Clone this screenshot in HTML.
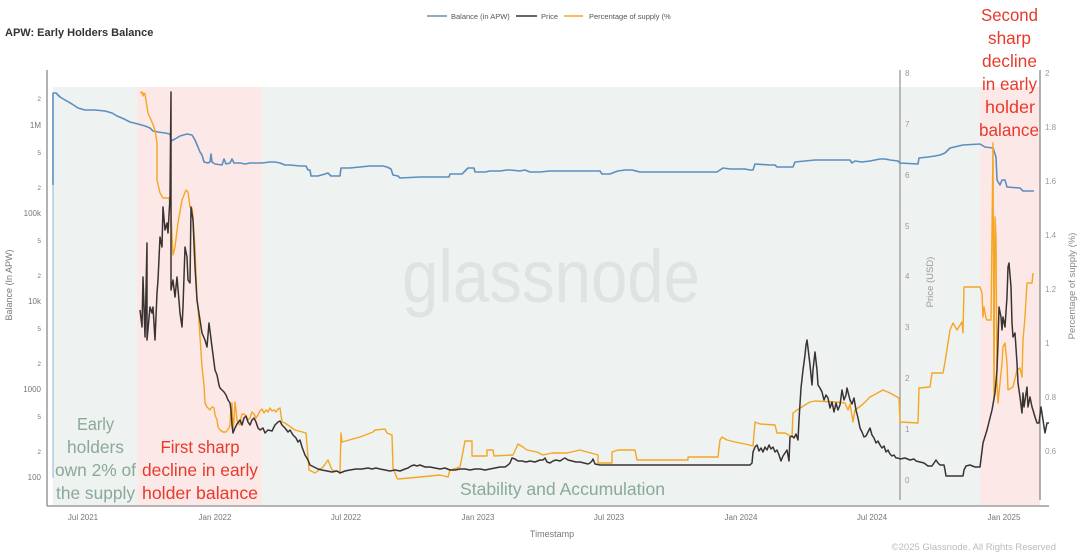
<!DOCTYPE html>
<html><head><meta charset="utf-8"><style>
html,body{margin:0;padding:0;background:#fff;}
svg{display:block;}
text{font-family:"Liberation Sans",Arial,sans-serif;}
</style></head><body>
<svg width="1080" height="556" viewBox="0 0 1080 556" xmlns="http://www.w3.org/2000/svg">
<!-- shading -->
<rect x="53" y="87" width="84" height="418" fill="#eef2f0"/>
<rect x="137" y="87" width="125" height="418" fill="#fce9e7"/>
<rect x="262" y="87" width="718" height="418" fill="#eef2f0"/>
<rect x="980" y="87" width="60" height="418" fill="#fce9e7"/>

<!-- watermark -->
<text x="402" y="302" font-size="74" textLength="298" lengthAdjust="spacingAndGlyphs" fill="#dfe3e2">glassnode</text>

<!-- title -->
<text x="5" y="36" font-size="11" font-weight="bold" fill="#333">APW: Early Holders Balance</text>

<!-- legend -->
<g font-size="7.5" fill="#555">
<line x1="427" y1="16" x2="447" y2="16" stroke="#5b8fc0" stroke-width="1.5"/>
<text x="451" y="19">Balance (in APW)</text>
<line x1="516" y1="16" x2="537" y2="16" stroke="#333" stroke-width="1.5"/>
<text x="541" y="19">Price</text>
<line x1="564" y1="16" x2="583" y2="16" stroke="#f5a623" stroke-width="1.5"/>
<text x="589" y="19">Percentage of supply (%</text>
</g>

<!-- axes -->
<line x1="47" y1="70" x2="47" y2="506" stroke="#888" stroke-width="1.3"/>
<line x1="47" y1="506" x2="1049" y2="506" stroke="#888" stroke-width="1.3"/>
<line x1="900" y1="70" x2="900" y2="500" stroke="#999" stroke-width="1.3"/>
<line x1="1040" y1="70" x2="1040" y2="500" stroke="#888" stroke-width="1.3"/>

<!-- left ticks -->
<g fill="#777" text-anchor="end">
<text x="41" y="101" font-size="6.5">2</text>
<text x="41" y="128" font-size="8">1M</text>
<text x="41" y="155" font-size="6.5">5</text>
<text x="41" y="190" font-size="6.5">2</text>
<text x="41" y="216" font-size="8">100k</text>
<text x="41" y="243" font-size="6.5">5</text>
<text x="41" y="278" font-size="6.5">2</text>
<text x="41" y="304" font-size="8">10k</text>
<text x="41" y="331" font-size="6.5">5</text>
<text x="41" y="366" font-size="6.5">2</text>
<text x="41" y="392" font-size="8">1000</text>
<text x="41" y="419" font-size="6.5">5</text>
<text x="41" y="454" font-size="6.5">2</text>
<text x="41" y="480" font-size="8">100</text>
</g>
<text transform="translate(12,285) rotate(-90)" text-anchor="middle" font-size="9" fill="#777">Balance (In APW)</text>

<!-- price ticks -->
<g fill="#999" font-size="8">
<text x="905" y="76">8</text>
<text x="905" y="127">7</text>
<text x="905" y="178">6</text>
<text x="905" y="229">5</text>
<text x="905" y="279">4</text>
<text x="905" y="330">3</text>
<text x="905" y="381">2</text>
<text x="905" y="432">1</text>
<text x="905" y="483">0</text>
</g>
<text transform="translate(933,282) rotate(-90)" text-anchor="middle" font-size="9.5" fill="#999">Price (USD)</text>

<!-- pct ticks -->
<g fill="#999" font-size="8">
<text x="1045" y="76">2</text>
<text x="1045" y="130">1.8</text>
<text x="1045" y="184">1.6</text>
<text x="1045" y="238">1.4</text>
<text x="1045" y="292">1.2</text>
<text x="1045" y="346">1</text>
<text x="1045" y="400">0.8</text>
<text x="1045" y="454">0.6</text>
</g>
<text transform="translate(1075,286) rotate(-90)" text-anchor="middle" font-size="9.5" fill="#888">Percentage of supply (%)</text>

<!-- x ticks -->
<g fill="#777" font-size="8" text-anchor="middle">
<text x="83" y="520">Jul 2021</text>
<text x="215" y="520">Jan 2022</text>
<text x="346" y="520">Jul 2022</text>
<text x="478" y="520">Jan 2023</text>
<text x="609" y="520">Jul 2023</text>
<text x="741" y="520">Jan 2024</text>
<text x="872" y="520">Jul 2024</text>
<text x="1004" y="520">Jan 2025</text>
</g>
<text x="552" y="537" text-anchor="middle" font-size="9" fill="#777">Timestamp</text>
<text x="1056" y="550" text-anchor="end" font-size="9.5" fill="#bbb">©2025 Glassnode. All Rights Reserved</text>

<!-- blue faint vertical -->
<line x1="53" y1="93" x2="53" y2="478" stroke="#8fb3d6" stroke-width="1"/>

<!-- blue balance -->
<polyline fill="none" stroke="#5b8fc0" stroke-width="1.6" stroke-linejoin="round" points="53,185 53,93 56,93 60,97 65,100 72,104 78,108 85,110 95,110 105,111 112,113 117,116 122,118 130,122 138,124 145,126 150,128 153,131 158,132 165,133 170,134 171,141 175,139 180,136 187,134 192,135 195,140 198,147 200,152 202,155 204,162 208,163 210,162 211,154 212,162 215,164 222,165 224,159 226,164 230,163 232,159 234,163 240,163 245,164 250,163 262,163 270,162 275,162 280,163 285,165 290,165 300,166 306,166 308,170 310,170 311,176 318,176 325,174 328,173 331,176 338,176 340,176 341,168 350,168 360,167 370,166 383,166 387,167 391,169 393,175 398,176 400,178 420,177 445,177 449,177 450,174 462,174 465,171 468,168 474,168 475,172 485,172 490,171 500,171 507,170 510,170 520,171 525,170 530,172 540,172 550,171 560,171 580,171 600,171 602,174 610,174 615,172 618,171 625,170 632,170 640,172 700,172 717,172 720,170 723,168 730,169 745,169 750,170 753,170 755,164 770,165 775,165 777,167 793,167 795,162 805,161 815,160 850,160 852,163 855,161 862,162 870,161 880,159 885,159 890,160 898,161 900,163 918,164 919,158 928,157 935,156 940,155 945,153 950,148 963,145 980,144 985,147 993,148 996,157 997,180 1000,185 1002,180 1005,180 1007,187 1020,188 1023,191 1034,191"/>

<!-- orange pct -->
<polyline fill="none" stroke="#f5a623" stroke-width="1.4" stroke-linejoin="round" points="140,93 142,92 143,96 144,93 145,94 147,107 148,113 152,122 155,130 157,143 157,180 160,193 163,198 169,198 171,210 172,237 173,255 175,247 178,223 182,200 186,190 188,192 190,207 192,208 193,217 195,247 197,300 198,307 200,337 202,367 204,385 205,403 207,407 210,410 212,407 214,408 215,415 217,420 218,427 220,430 223,432 226,432 229,428 230,425 231,405 232,403 233,430 234,420 235,402 236,410 237,420 238,423 240,425 241,418 242,414 244,414 246,416 248,420 250,418 252,412 254,414 256,418 258,415 260,411 262,409 264,413 266,410 268,412 270,408 272,411 274,410 276,412 278,409 280,408 282,422 285,423 295,430 306,433 309,470 315,473 323,467 328,460 332,470 340,472 341,433 342,442 360,437 373,432 375,430 385,429 387,433 392,435 393,468 397,478 398,479 420,477 440,475 448,477 450,470 460,467 465,441 472,441 472,456 487,456 487,450 493,450 494,456 513,455 518,444 523,447 527,450 537,452 543,455 552,453 567,453 580,450 598,455 598,463 612,463 612,452 618,450 635,450 637,460 688,460 688,457 718,457 720,440 722,437 727,440 735,442 745,444 753,446 755,422 760,424 775,425 777,433 785,433 792,437 793,413 797,410 805,405 810,402 815,401 835,402 845,403 848,410 850,404 853,422 855,410 862,405 870,397 883,390 890,393 899,398 900,422 918,423 919,388 930,387 932,373 943,373 945,362 950,330 953,323 957,330 962,322 963,333 964,287 980,287 982,293 983,317 984,307 986,318 987,320 991,320 993,143 994,400 995,217 996,237 997,383 998,403 1000,383 1002,363 1003,347 1005,343 1007,363 1008,390 1013,387 1017,370 1020,368 1022,377 1023,340 1025,317 1027,283 1032,283 1033,273"/>

<!-- black price -->
<polyline fill="none" stroke="#3a3333" stroke-width="1.5" stroke-linejoin="round" points="140,310 142,327 143,277 145,337 147,243 147,340 150,307 152,313 153,307 155,340 157,293 158,280 160,237 162,247 163,207 165,230 167,223 168,233 170,197 171,92 171,290 173,280 175,297 177,277 180,313 182,327 183,307 185,247 187,257 188,280 190,283 191,207 193,220 195,267 197,300 198,307 202,333 205,340 207,347 209,323 212,347 215,370 217,375 219,385 220,388 222,390 224,392 226,395 228,400 230,403 231,410 232,425 233,433 235,428 237,424 240,420 242,425 244,418 246,416 248,422 250,425 252,420 254,418 256,422 258,428 260,430 263,428 265,433 268,430 272,431 275,425 278,422 280,421 282,425 285,428 288,432 290,430 293,435 296,438 298,442 300,440 302,447 305,455 308,460 310,465 314,467 318,469 322,470 327,471 332,472 337,471 340,473 345,471 350,470 356,469 362,469 368,468 372,469 376,468 380,469 385,470 390,471 395,470 400,471 405,469 408,468 411,466 414,465 417,466 420,465 425,467 430,467 435,468 440,469 445,468 450,470 455,470 460,469 465,469 470,470 475,469 480,469 485,470 490,469 495,468 500,467 505,467 508,465 510,463 512,458 515,459 518,461 522,461 526,462 530,461 535,462 540,460 543,460 545,458 547,462 550,463 553,461 556,460 560,461 563,459 565,458 568,460 572,461 576,462 580,462 584,463 588,464 590,463 592,461 593,459 595,464 600,465 750,465 752,463 753,452 755,447 757,445 759,451 761,448 763,452 765,447 767,450 769,445 771,449 773,447 775,452 777,450 779,455 781,461 783,456 785,453 787,450 789,461 790,437 792,436 794,438 796,434 798,440 799,420 801,388 803,370 805,355 806,345 807,340 808,348 810,365 812,385 813,370 815,352 817,370 818,385 820,388 822,392 824,400 826,395 828,398 830,408 832,402 834,412 836,403 838,410 840,405 842,390 844,400 846,395 847,388 848,392 850,400 852,404 854,398 856,410 858,418 860,428 862,432 864,437 866,436 868,432 870,428 872,435 874,438 876,443 878,441 880,445 882,448 884,446 886,452 888,450 890,454 892,456 894,455 896,458 898,458 900,459 905,458 910,460 914,459 916,461 920,462 924,463 928,466 932,466 934,463 936,460 938,463 940,465 944,465 945,470 946,476 955,476 963,476 964,470 966,466 970,465 975,467 980,467 983,443 987,430 992,410 995,393 997,370 998,343 999,307 1001,317 1002,330 1003,317 1005,327 1007,297 1008,267 1009,263 1011,287 1012,323 1013,337 1015,333 1017,363 1018,383 1020,397 1022,413 1023,393 1024,407 1027,387 1028,407 1030,397 1032,407 1033,410 1035,417 1037,423 1039,423 1041,407 1043,420 1045,433 1047,423 1049,423"/>

<!-- annotations -->
<g font-size="17.5" text-anchor="middle" fill="#8aa996">
<text x="95.5" y="430" textLength="37" lengthAdjust="spacingAndGlyphs">Early</text>
<text x="95.5" y="453" textLength="57" lengthAdjust="spacingAndGlyphs">holders</text>
<text x="95.5" y="476" textLength="81" lengthAdjust="spacingAndGlyphs">own 2% of</text>
<text x="95.5" y="499" textLength="79" lengthAdjust="spacingAndGlyphs">the supply</text>
<text x="562.5" y="495" textLength="205" lengthAdjust="spacingAndGlyphs">Stability and Accumulation</text>
</g>
<g font-size="17.5" text-anchor="middle" fill="#e8392b">
<text x="200" y="453" textLength="79" lengthAdjust="spacingAndGlyphs">First sharp</text>
<text x="200" y="476" textLength="116" lengthAdjust="spacingAndGlyphs">decline in early</text>
<text x="200" y="499" textLength="116" lengthAdjust="spacingAndGlyphs">holder balance</text>
<text x="1009.5" y="21" textLength="57" lengthAdjust="spacingAndGlyphs">Second</text>
<text x="1009.5" y="44" textLength="43" lengthAdjust="spacingAndGlyphs">sharp</text>
<text x="1009.5" y="67" textLength="55" lengthAdjust="spacingAndGlyphs">decline</text>
<text x="1009.5" y="90" textLength="55" lengthAdjust="spacingAndGlyphs">in early</text>
<text x="1010" y="113" textLength="50" lengthAdjust="spacingAndGlyphs">holder</text>
<text x="1009" y="136" textLength="60" lengthAdjust="spacingAndGlyphs">balance</text>
</g>
</svg>
</body></html>
